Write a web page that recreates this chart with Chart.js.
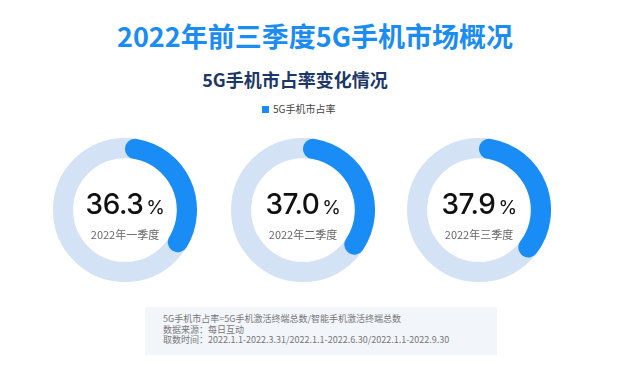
<!DOCTYPE html>
<html>
<head>
<meta charset="utf-8">
<script src="https://cdn.jsdelivr.net/npm/chart.js@4"></script>
<style>
  body { margin: 0; background: #fff; font-family: "Noto Sans CJK SC", "Noto Sans", sans-serif; }
  #wrap { position: relative; width: 630px; height: 376px; overflow: hidden; }
  .title { position: absolute; left: 0; width: 630px; top: 16px; text-align: center; font-size: 27px; font-weight: 700; color: #1a8cf2; }
  .sub { position: absolute; left: 0; width: 590px; top: 66px; text-align: center; font-size: 18px; font-weight: 700; color: #1d3768; }
  .legend { position: absolute; left: 262px; top: 101px; font-size: 10px; color: #444; }
  .legend span { display: inline-block; width: 7px; height: 7px; background: #1a8cf5; margin-right: 4px; vertical-align: 0px; }
  canvas { position: absolute; }
  .center { position: absolute; width: 144px; text-align: center; }
  .num { font-family: "Inter", "Lato", sans-serif; font-size: 28px; font-weight: 500; color: #111; line-height: 30px; letter-spacing: -0.5px; }
  .num small { font-size: 19px; margin-left: 3px; font-weight: 400; }
  .lab { font-size: 11px; color: #666; margin-top: 3px; }
  .note { position: absolute; left: 145px; top: 307px; width: 352px; height: 48px; background: #f2f5fa; }
  .note div { position: absolute; left: 18px; font-size: 9px; color: #777; line-height: 10.5px; top: 7px; }
</style>
</head>
<body>
<div id="wrap">
  <div class="title">2022年前三季度5G手机市场概况</div>
  <div class="sub">5G手机市占率变化情况</div>
  <div class="legend"><span></span>5G手机市占率</div>
  <div class="note"><div>5G手机市占率=5G手机激活终端总数/智能手机激活终端总数<br>数据来源：每日互动<br>取数时间：2022.1.1-2022.3.31/2022.1.1-2022.6.30/2022.1.1-2022.9.30</div></div>
</div>
<script>
const quarters = ['2022年一季度', '2022年二季度', '2022年三季度'];
const shares = [36.3, 37.0, 37.9];
const centersX = [125, 303, 479];

const ringBg = {
  id: 'ringBg',
  beforeDatasetsDraw(chart) {
    const arc = chart.getDatasetMeta(0).data[0];
    const ctx = chart.ctx;
    const r = (arc.outerRadius + arc.innerRadius) / 2;
    ctx.save();
    ctx.beginPath();
    ctx.arc(arc.x, arc.y, r, 0, Math.PI * 2);
    ctx.lineWidth = arc.outerRadius - arc.innerRadius;
    ctx.strokeStyle = '#d4e2f6';
    ctx.stroke();
    ctx.restore();
  }
};

const wrap = document.getElementById('wrap');
quarters.forEach((q, i) => {
  const cv = document.createElement('canvas');
  cv.width = 144; cv.height = 144;
  cv.style.left = (centersX[i] - 72) + 'px';
  cv.style.top = '138px';
  wrap.appendChild(cv);

  new Chart(cv, {
    type: 'doughnut',
    data: {
      labels: ['5G手机市占率', ''],
      datasets: [{
        data: [shares[i], 100 - shares[i]],
        backgroundColor: ['#1a8cf5', 'rgba(0,0,0,0)'],
        borderWidth: 0,
        borderRadius: [10, 0],
        hoverOffset: 0
      }]
    },
    options: {
      responsive: false,
      animation: false,
      cutout: '72%',
      layout: { padding: 0 },
      plugins: { legend: { display: false }, tooltip: { enabled: false } }
    },
    plugins: [ringBg]
  });

  const c = document.createElement('div');
  c.className = 'center';
  c.style.left = (centersX[i] - 72) + 'px';
  c.style.top = '189px';
  c.innerHTML = '<div class="num">' + shares[i].toFixed(1) + '<small>%</small></div><div class="lab">' + q + '</div>';
  wrap.appendChild(c);
});
</script>
</body>
</html>
